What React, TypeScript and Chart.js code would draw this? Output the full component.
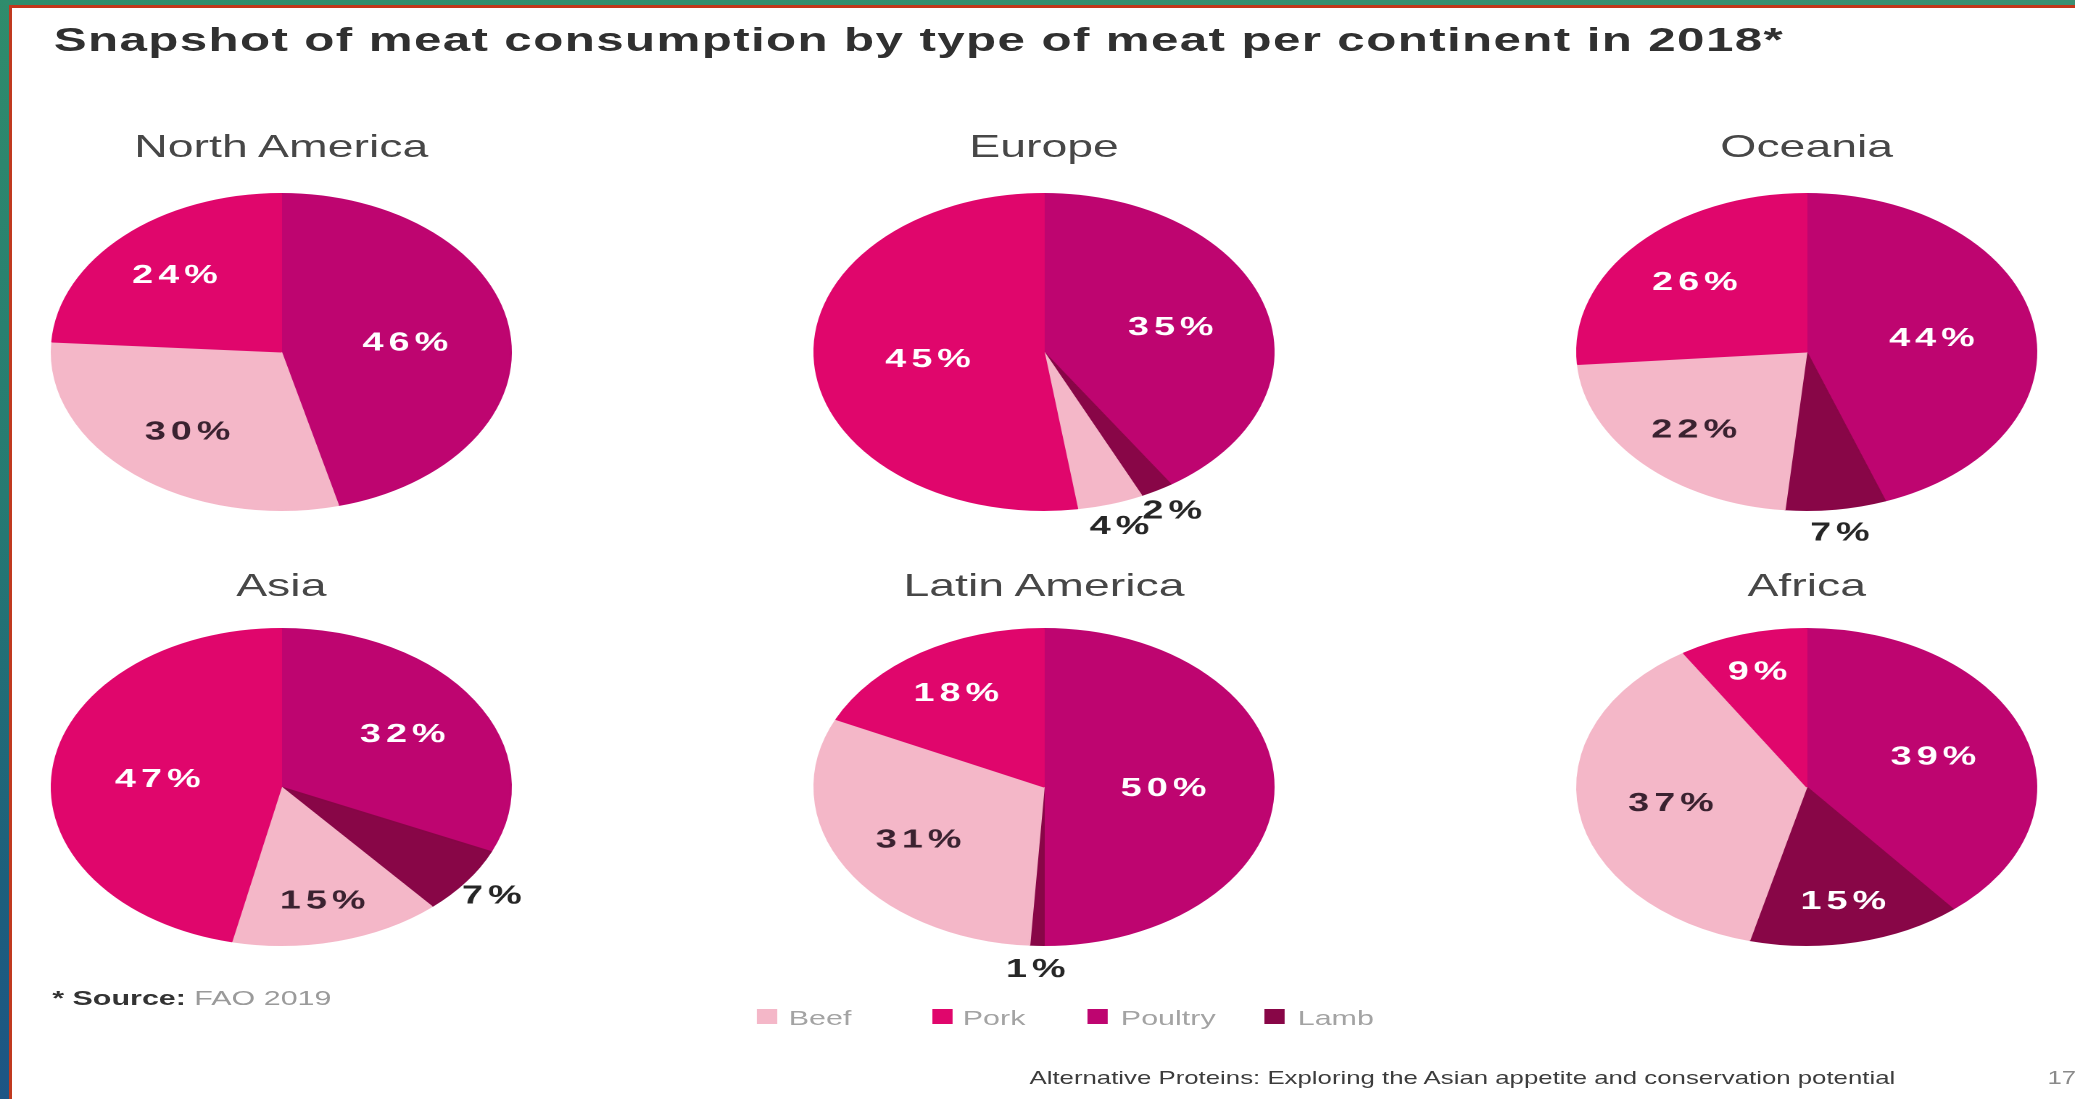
import React, { useEffect, useRef } from 'react';
import { Chart, registerables } from 'chart.js';

Chart.register(...registerables);

// ---------- data ----------
const TITLE = 'Snapshot of meat consumption by type of meat per continent in 2018*';
const continents = ['North America', 'Europe', 'Oceania', 'Asia', 'Latin America', 'Africa'];
const meatTypes = ['Beef', 'Pork', 'Poultry', 'Lamb'];
const beef = [30, 4, 22, 15, 31, 37];
const pork = [24, 45, 26, 47, 18, 9];
const poultry = [46, 35, 44, 32, 50, 39];
const lamb = [0, 2, 7, 7, 1, 15];
const drawOrder = ['Poultry', 'Lamb', 'Beef', 'Pork'];
const SOURCE_MARK = '* ';
const SOURCE_LABEL = 'Source:';
const SOURCE_TEXT = ' FAO 2019';
const FOOTER = 'Alternative Proteins: Exploring the Asian appetite and conservation potential';
const PAGE_NUMBER = '17';

// ---------- styles ----------
const meatColors: Record<string, string> = {
  Beef: '#F4B7C8',
  Pork: '#E0066C',
  Poultry: '#BE0570',
  Lamb: '#880647',
};
const FONT = '"Liberation Sans", Arial, Helvetica, sans-serif';
const STRETCH = 1.45;
const BASE_W = 2075 / STRETCH;
const colCenters = [194, 720, 1246];
const rowCenters = [352, 787];
const rowTitleBaselines = [157, 596];
const CANVAS_W = 400;
const CANVAS_H = 420;

const seriesByMeat: Record<string, number[]> = {
  Beef: beef,
  Pork: pork,
  Poultry: poultry,
  Lamb: lamb,
};

const pieLabelPlugin = {
  id: 'pieLabels',
  afterDatasetsDraw(chart: any) {
    const ctx = chart.ctx as CanvasRenderingContext2D;
    const meta = chart.getDatasetMeta(0);
    const values = chart.data.datasets[0].data as number[];
    const names = chart.data.labels as string[];
    const total = values.reduce((a, b) => a + b, 0);
    ctx.save();
    ctx.font = `bold 26px ${FONT}`;
    ctx.textAlign = 'center';
    ctx.textBaseline = 'middle';
    (ctx as any).letterSpacing = '3.5px';
    meta.data.forEach((arc: any, i: number) => {
      const v = values[i];
      if (!v) return;
      const p = arc.getProps(['x', 'y', 'startAngle', 'endAngle', 'outerRadius'], true);
      const mid = (p.startAngle + p.endAngle) / 2;
      const frac = v / total;
      let r: number;
      let color: string;
      if (frac < 0.08) {
        r = p.outerRadius * 1.14;
        color = '#262626';
      } else {
        r = p.outerRadius * (0.82 - 0.6 * frac);
        color = names[i] === 'Beef' ? '#3a2230' : '#ffffff';
      }
      ctx.fillStyle = color;
      ctx.fillText(`${v}%`, p.x + Math.cos(mid) * r + 1.75, p.y + Math.sin(mid) * r + 2);
    });
    ctx.restore();
  },
};

function PieChart({ index, cx, cy }: { index: number; cx: number; cy: number }) {
  const ref = useRef<HTMLCanvasElement>(null);
  useEffect(() => {
    const chart = new Chart(ref.current as HTMLCanvasElement, {
      type: 'pie',
      data: {
        labels: drawOrder,
        datasets: [
          {
            data: drawOrder.map((m) => seriesByMeat[m][index]),
            backgroundColor: drawOrder.map((m) => meatColors[m]),
            borderColor: drawOrder.map((m) => meatColors[m]),
            borderWidth: 1,
          },
        ],
      },
      options: {
        responsive: false,
        animation: false,
        devicePixelRatio: 2,
        events: [],
        layout: { padding: { left: 41, right: 41, top: 51, bottom: 51 } },
        plugins: {
          legend: { display: false },
          tooltip: { enabled: false },
          title: { display: false },
        },
      },
      plugins: [pieLabelPlugin],
    } as any);
    return () => chart.destroy();
  }, [index]);
  return (
    <canvas
      ref={ref}
      width={CANVAS_W}
      height={CANVAS_H}
      style={{
        position: 'absolute',
        left: cx - CANVAS_W / 2,
        top: cy - CANVAS_H / 2,
        width: CANVAS_W,
        height: CANVAS_H,
      }}
    />
  );
}

const legendPos = [
  { sw: 522, tx: 544 },
  { sw: 643, tx: 664 },
  { sw: 750, tx: 773 },
  { sw: 872, tx: 895 },
];

export default function App() {
  return (
    <div
      style={{
        position: 'fixed',
        left: 0,
        top: 0,
        width: 2075,
        height: 1099,
        background: '#ffffff',
        overflow: 'hidden',
        fontFamily: FONT,
      }}
    >
      {/* slide frame */}
      <div style={{ position: 'absolute', left: 0, top: 0, width: 2075, height: 5, background: 'linear-gradient(to right, #2f8c6c, #3a8f72)' }} />
      <div style={{ position: 'absolute', left: 0, top: 5, width: 2075, height: 3, background: '#c4351b' }} />
      <div style={{ position: 'absolute', left: 0, top: 0, width: 9, height: 1099, background: 'linear-gradient(to bottom, #2f8c6c 0%, #267a72 45%, #1d5f7c 80%, #1d5585 100%)' }} />
      <div style={{ position: 'absolute', left: 9, top: 5, width: 3, height: 1094, background: '#c0391f' }} />

      {/* stretched slide content */}
      <div
        style={{
          position: 'absolute',
          left: 0,
          top: 0,
          width: BASE_W,
          height: 1099,
          transform: `scaleX(${STRETCH})`,
          transformOrigin: '0 0',
        }}
      >
        <div
          style={{
            position: 'absolute',
            left: 37,
            top: 22,
            fontSize: 34,
            lineHeight: '34px',
            fontWeight: 'bold',
            letterSpacing: '0.95px',
            color: '#303030',
            whiteSpace: 'nowrap',
          }}
        >
          {TITLE}
        </div>

        {continents.map((name, i) => {
          const cx = colCenters[i % 3];
          const row = Math.floor(i / 3);
          return (
            <React.Fragment key={name}>
              <PieChart index={i} cx={cx} cy={rowCenters[row]} />
              <div
                style={{
                  position: 'absolute',
                  left: cx - 200,
                  width: 400,
                  top: rowTitleBaselines[row] - 27,
                  textAlign: 'center',
                  fontSize: 32,
                  lineHeight: '32px',
                  color: '#474747',
                  whiteSpace: 'nowrap',
                }}
              >
                {name}
              </div>
            </React.Fragment>
          );
        })}

        <div
          style={{
            position: 'absolute',
            left: 36,
            top: 987,
            fontSize: 21,
            lineHeight: '21px',
            whiteSpace: 'nowrap',
          }}
        >
          <span style={{ color: '#333', fontWeight: 'bold' }}>{SOURCE_MARK}{SOURCE_LABEL}</span>
          <span style={{ color: '#9a9a9a' }}>{SOURCE_TEXT}</span>
        </div>

        {meatTypes.map((m, i) => (
          <React.Fragment key={m}>
            <div
              style={{
                position: 'absolute',
                left: legendPos[i].sw,
                top: 1009,
                width: 14,
                height: 15,
                background: meatColors[m],
              }}
            />
            <div
              style={{
                position: 'absolute',
                left: legendPos[i].tx,
                top: 1007,
                fontSize: 21,
                lineHeight: '21px',
                color: '#a3a3a3',
                whiteSpace: 'nowrap',
              }}
            >
              {m}
            </div>
          </React.Fragment>
        ))}

        <div
          style={{
            position: 'absolute',
            left: 710,
            top: 1069,
            fontSize: 17.8,
            lineHeight: '18px',
            color: '#3c3c3c',
            whiteSpace: 'nowrap',
          }}
        >
          {FOOTER}
        </div>
        <div
          style={{
            position: 'absolute',
            left: 1412,
            top: 1069,
            fontSize: 17.8,
            lineHeight: '18px',
            color: '#8a8a8a',
            whiteSpace: 'nowrap',
          }}
        >
          {PAGE_NUMBER}
        </div>
      </div>
    </div>
  );
}
